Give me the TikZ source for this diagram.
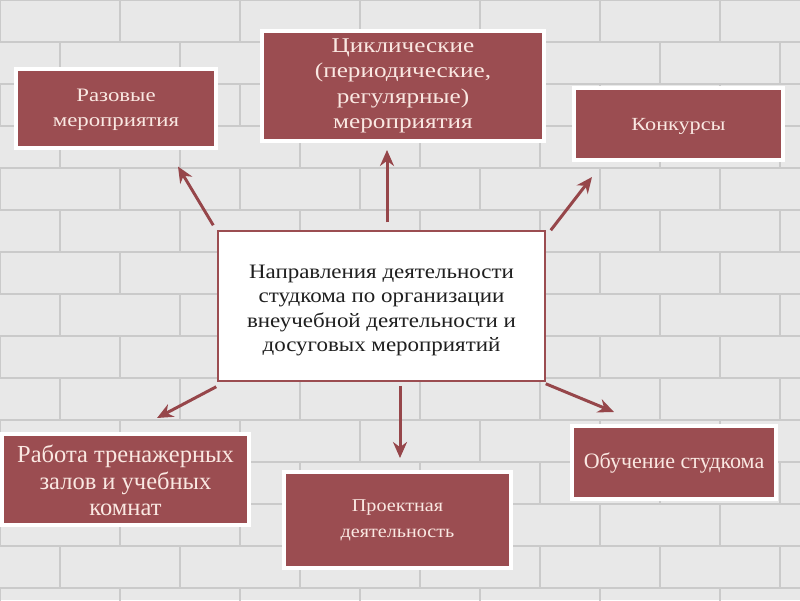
\documentclass[tikz,border=0pt]{standalone}
\usepackage{fontspec}
\setmainfont{Liberation Serif}
\newfontfamily\fA[FakeStretch=1.2]{Liberation Serif}
\newfontfamily\fB[FakeStretch=1.12]{Liberation Serif}
\usetikzlibrary{arrows.meta,calc,shadows}
\definecolor{brick}{RGB}{155,77,81}
\definecolor{arrowred}{RGB}{150,70,74}
\definecolor{txtpink}{RGB}{250,232,226}
\definecolor{wall}{RGB}{232,232,232}
\definecolor{mortar}{RGB}{202,202,202}
\tikzset{
  redbox/.style={fill=brick, draw=white, line width=4pt, text=txtpink, align=center,
    inner sep=0pt, drop shadow={shadow xshift=1pt, shadow yshift=-1pt, opacity=0.35}},
  mainbox/.style={fill=white, draw=brick, line width=1.5pt, align=center, inner sep=0pt, text=black!88},
  arr/.style={draw=arrowred, line width=3pt, -{Stealth[length=16pt,width=14pt]}},
}
\begin{document}
\begin{tikzpicture}[x=1pt,y=-1pt]
\useasboundingbox (0,0) rectangle (800,600);
% wall
\fill[wall] (0,0) rectangle (800,600);
\foreach \r in {0,...,14}{
  \pgfmathsetmacro{\yy}{\r*42}
  \draw[mortar, line width=2pt] (0,\yy) -- (800,\yy);
  \pgfmathsetmacro{\off}{mod(\r,2)*60}
  \foreach \c in {0,...,7}{
    \pgfmathsetmacro{\xx}{\c*120+\off}
    \draw[mortar, line width=2pt] (\xx,\yy) -- (\xx,\yy+42);
  }
}
% nodes
\node[redbox, minimum width=200pt, minimum height=79pt, font=\fA\fontsize{19}{25}\selectfont]
  (razovye) at (116,108) {\rule{0pt}{16pt}Разовые\\мероприятия};
\node[redbox, minimum width=282pt, minimum height=110pt, font=\fA\fontsize{21}{25.5}\selectfont]
  (cikl) at (403,86) {Циклические\\(периодические,\\регулярные)\\мероприятия};
\node[redbox, minimum width=209pt, minimum height=72pt, font=\fA\fontsize{18.5}{22}\selectfont]
  (konk) at (678.5,124) {\rule{0pt}{17pt}Конкурсы};
\node[mainbox, minimum width=327pt, minimum height=150pt, font=\fB\fontsize{20.5}{24.5}\selectfont]
  (center) at (381.5,306) {\rule{0pt}{22pt}Направления деятельности\\студкома по организации\\внеучебной деятельности и\\досуговых мероприятий};
\node[redbox, minimum width=247pt, minimum height=91pt, font=\fontsize{24.5}{26.5}\selectfont]
  (rabota) at (125.5,479.5) {\rule{0pt}{20pt}Работа тренажерных\\залов и учебных\\комнат};
\node[redbox, minimum width=227pt, minimum height=96pt, font=\fB\fontsize{18}{26}\selectfont]
  (proekt) at (397.5,520) {Проектная\\деятельность};
\node[redbox, minimum width=204pt, minimum height=73pt, font=\fontsize{22}{24}\selectfont]
  (obuch) at (674,462.5) {Обучение студкома};
% arrows
\draw[arr] ($(center.north west)+(-4,-5)$) -- ($(razovye.south east)+(-40,17)$);
\draw[arr] ($(center.north)+(5.5,-8)$) -- ($(cikl.south)+(-16,7)$);
\draw[arr] ($(center.north east)+(5,0)$) -- ($(konk.south west)+(20,15)$);
\draw[arr] ($(center.south west)+(-1,5)$) -- ($(rabota.north east)+(-94,-14)$);
\draw[arr] ($(center.south)+(18.5,4)$) -- ($(proekt.north)+(2.5,-12)$);
\draw[arr] ($(center.south east)+(0,2)$) -- ($(obuch.north west)+(44,-12)$);
\end{tikzpicture}
\end{document}
